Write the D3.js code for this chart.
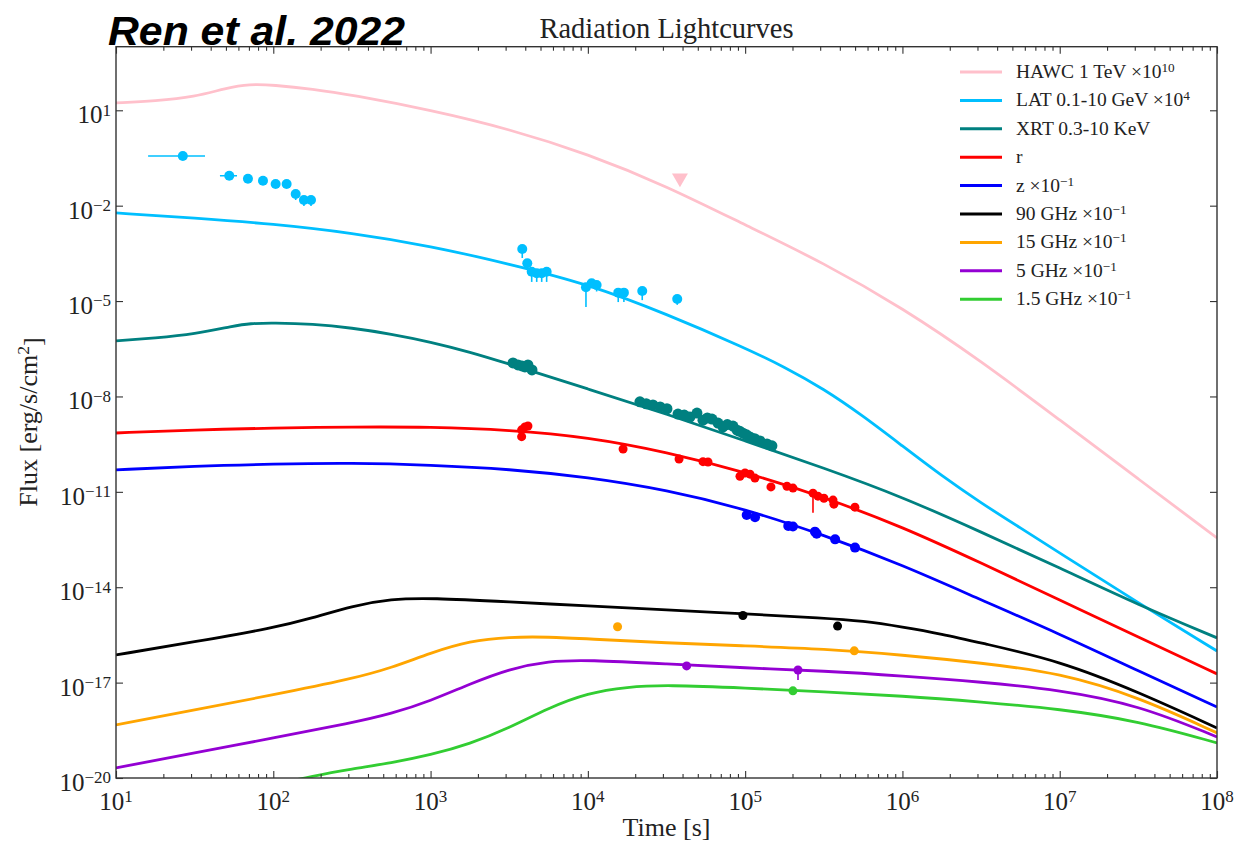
<!DOCTYPE html>
<html><head><meta charset="utf-8">
<script src="https://cdn.jsdelivr.net/npm/d3@7"></script>
<style>body{margin:0;background:#fff} svg{display:block}</style>
</head><body>
<svg id="c" width="1238" height="843"></svg>
<script>
// ---------- model curves [time s, flux] ----------
const hawcLine = [[10,17.0],[17.8,19.6],[31.6,26.2],[50.1,50.2],[70.8,67.1],[100,62.5],[178,46.8],[316,30.3],[1000,10.2],[3162,2.58],[1e4,0.423],[31623,0.0416],[1e5,2.47e-3],[316228,1.58e-4],[1e6,6.07e-6],[3.16e6,1.31e-7],[1e7,1.82e-9],[3.16e7,2.55e-11],[1e8,3.55e-13]];
const latLine = [[10,5.9e-3],[31.6,4.1e-3],[100,2.66e-3],[316,1.39e-3],[1000,5.41e-4],[3162,1.47e-4],[1e4,3.45e-5],[31623,3.93e-6],[1e5,3.35e-7],[177828,8.47e-8],[316228,1.72e-8],[562341,2.44e-9],[1e6,2.77e-10],[1.78e6,3.16e-11],[3.16e6,4.48e-12],[5.62e6,7.33e-13],[1e7,1.20e-13],[3.16e7,3.21e-15],[1e8,9.9e-17]];
const xrtLine = [[10,5.56e-7],[17.8,6.92e-7],[31.6,9.23e-7],[56.2,1.65e-6],[70.8,1.98e-6],[100,2.05e-6],[178,1.91e-6],[316,1.43e-6],[562,9.23e-7],[1000,5.18e-7],[1778,2.51e-7],[3162,1.05e-7],[1e4,1.72e-8],[31623,2.82e-9],[1e5,3.99e-10],[316228,5.65e-11],[1e6,6.92e-12],[3.16e6,5.48e-13],[1e7,4.05e-14],[3.16e7,2.77e-15],[1e8,2.55e-16]];
const rLine = [[10,7.1e-10],[31.6,8.9e-10],[100,1.02e-9],[316,1.1e-9],[1000,1.1e-9],[3162,8.9e-10],[1e4,5.3e-10],[31623,1.8e-10],[1e5,4.2e-11],[316228,6.9e-12],[1e6,7.9e-13],[3.16e6,5.8e-14],[1e7,4.0e-15],[3.16e7,2.7e-16],[1e8,1.88e-17]];
const zLine = [[10,4.9e-11],[31.6,6.5e-11],[100,7.5e-11],[316,8.1e-11],[1000,7.0e-11],[3162,5.2e-11],[1e4,2.9e-11],[31623,1.15e-11],[1e5,2.9e-12],[316228,4.4e-13],[1e6,5.0e-14],[3.16e6,4.0e-15],[1e7,3.4e-16],[3.16e7,2.33e-17],[1e8,1.72e-18]];
const g90Line = [[10,7.43e-17],[31.6,1.91e-16],[100,5.25e-16],[178,1.08e-15],[316,2.58e-15],[562,4.29e-15],[1000,4.61e-15],[3162,3.45e-15],[1e4,2.58e-15],[31623,1.93e-15],[1e5,1.45e-15],[316228,1.08e-15],[562341,8.71e-16],[1e6,5.64e-16],[1.78e6,3.40e-16],[3.16e6,1.77e-16],[1e7,4.81e-17],[3.16e7,5.10e-18],[1e8,3.76e-19]];
const g15Line = [[10,4.68e-19],[31.6,1.39e-18],[100,4.10e-18],[316,1.31e-17],[562,2.90e-17],[1000,8.59e-17],[1778,2.05e-16],[3162,2.74e-16],[5623,2.74e-16],[1e4,2.37e-16],[31623,1.77e-16],[1e5,1.43e-16],[316228,1.15e-16],[1e6,7.43e-17],[3.16e6,4.16e-17],[1e7,2.02e-17],[3.16e7,3.55e-18],[1e8,2.62e-19]];
const g5Line = [[10,2.08e-20],[31.6,6.15e-20],[100,1.82e-19],[316,5.41e-19],[562,1.04e-18],[1000,2.66e-18],[1778,9.10e-18],[3162,2.70e-17],[5623,4.81e-17],[1e4,5.18e-17],[31623,3.87e-17],[1e5,2.90e-17],[316228,2.33e-17],[1e6,1.63e-17],[3.16e6,1.05e-17],[1e7,5.89e-18],[3.16e7,1.99e-18],[1e8,1.96e-19]];
const g1p5Line = [[100,6.07e-21],[178,1.16e-20],[316,1.93e-20],[562,2.99e-20],[1000,5.32e-20],[1778,1.18e-19],[3162,3.76e-19],[5623,1.60e-18],[1e4,4.74e-18],[17783,7.33e-18],[31623,8.47e-18],[1e5,6.81e-18],[316228,5.10e-18],[1e6,3.82e-18],[3.16e6,2.47e-18],[1e7,1.49e-18],[3.16e7,6.25e-19],[1e8,1.27e-19]];

// ---------- observations ----------
const latEarlyT = [26.6,52.5,69,86,103.5,121.6,138.8,156.6,173.7];
const latEarlyF = [0.366,0.0877,0.0706,0.0611,0.0481,0.0481,0.0233,0.0151,0.0151];
const latEarlyTlo = [16,45.8,null,null,null,null,null,null,null];
const latEarlyThi = [36.8,58.8,null,null,null,null,null,null,null];
const latEarlyFlo = [null,null,null,null,null,null,0.0151,0.0098,0.0098];
const latLateT = [3828,4120,4395,4729,5087,5470,9727,10570,11370,15600,16950,22170,37000];
const latLateF = [4.35e-4,1.55e-4,8.4e-5,7.5e-5,7.5e-5,8.4e-5,2.72e-5,3.63e-5,3.2e-5,1.84e-5,1.84e-5,2.08e-5,1.16e-5];
const latLateFlo = [2.26e-4,null,4.0e-5,4.0e-5,4.0e-5,4.0e-5,6.5e-6,null,2.0e-5,9.3e-6,9.3e-6,1.07e-5,7.6e-6];
const xrtT = [3342,3597,3813,3981,4160,4413,21430,23500,25930,28800,31840,37410,41000,44570,49400,53950,57500,61540,67200,72300,77000,83700,88800,92500,96900,102000,107400,115000,124300,137700,148000];
const xrtF = [1.13e-7,9.8e-8,9.1e-8,8.5e-8,9.8e-8,6.8e-8,6.8e-9,5.9e-9,5.4e-9,4.7e-9,4.1e-9,2.8e-9,2.6e-9,2.26e-9,3.0e-9,1.8e-9,2.1e-9,1.95e-9,1.45e-9,1.1e-9,1.3e-9,1.17e-9,8.7e-10,8.0e-10,7.0e-10,6.2e-10,5.3e-10,4.7e-10,4.0e-10,3.2e-10,2.8e-10];
const rT = [3793,3793,3981,4160,16750,38000,53950,58050,92700,99800,107400,115400,145900,184500,201400,270000,290200,317000,362000,366700,498900];
const rF = [5.44e-10,8.9e-10,1.1e-9,1.18e-9,2.23e-10,1.08e-10,8.9e-11,8.7e-11,3.1e-11,3.9e-11,3.6e-11,2.7e-11,1.43e-11,1.5e-11,1.31e-11,9.1e-12,7.3e-12,6.3e-12,5.5e-12,4.1e-12,3.3e-12];
const rFlo = [null,null,null,null,null,null,null,null,null,null,null,null,null,null,null,2.2e-12,null,null,null,null,null];
const zT = [102300,115600,188000,201300,277900,285000,373200,499500];
const zF = [1.88e-12,1.59e-12,8.5e-13,8.1e-13,5.6e-13,4.8e-13,3.2e-13,1.76e-13];
const g90T = [96800,387000], g90F = [1.29e-15,6.0e-16];
const g15T = [15450,494000], g15F = [5.7e-16,1.0e-16];
const g5T = [42460,216800], g5F = [3.35e-17,2.5e-17], g5Flo = [null,1.2e-17];
const g1p5T = [201300], g1p5F = [5.5e-18];
const hawcUlT = [38500], hawcUlF = [0.074];

// ---------- ticks / labels ----------
const xMajor = [1e1,1e2,1e3,1e4,1e5,1e6,1e7,1e8];
const xMajorExp = ["1","2","3","4","5","6","7","8"];
const yMajor = [1e1,1e-2,1e-5,1e-8,1e-11,1e-14,1e-17,1e-20];
const yMajorExp = ["1","−2","−5","−8","−11","−14","−17","−20"];
const legendMain = ["HAWC 1 TeV ×10","LAT 0.1-10 GeV ×10","XRT 0.3-10 KeV","r","z ×10","90 GHz ×10","15 GHz ×10","5 GHz ×10","1.5 GHz ×10"];
const legendSup = ["10","4","","","−1","−1","−1","−1","−1"];
const colors = ["pink","#00BFFF","teal","red","blue","black","orange","darkviolet","limegreen"];

const svg = d3.select("#c");
const L=116, T=46.7, R=1217, B=778;
const x = d3.scaleLog().domain([10,1e8]).range([L,R]);
const y = d3.scaleLog().domain([1e-20,1e3]).range([B,T]);
const serif = "'Liberation Serif','Times New Roman',serif";

svg.append("rect").attr("width",1238).attr("height",843).attr("fill","#fff");
svg.append("defs").append("clipPath").attr("id","clip")
  .append("rect").attr("x",L).attr("y",T).attr("width",R-L).attr("height",B-T);

const plot = svg.append("g").attr("clip-path","url(#clip)");
const line = d3.line().x(d=>x(d[0])).y(d=>y(d[1])).curve(d3.curveBasis);
const curves = [hawcLine,latLine,xrtLine,rLine,zLine,g90Line,g15Line,g5Line,g1p5Line];
curves.forEach((c,i)=>{
  plot.append("path").datum(c).attr("d",line).attr("fill","none")
    .attr("stroke",colors[i]).attr("stroke-width",2.8).attr("stroke-linejoin","round");
});

function pts(ts,fs,col,r,flo,tlo,thi){
  const g = plot.append("g");
  ts.forEach((t,i)=>{
    if(flo && flo[i]!=null) g.append("line").attr("x1",x(t)).attr("x2",x(t)).attr("y1",y(fs[i])).attr("y2",y(flo[i])).attr("stroke",col).attr("stroke-width",1.6);
    if(tlo && tlo[i]!=null) g.append("line").attr("x1",x(tlo[i])).attr("x2",x(thi[i])).attr("y1",y(fs[i])).attr("y2",y(fs[i])).attr("stroke",col).attr("stroke-width",1.6);
  });
  g.selectAll("circle").data(ts).join("circle").attr("cx",d=>x(d)).attr("cy",(d,i)=>y(fs[i])).attr("r",r).attr("fill",col);
}
pts(latEarlyT,latEarlyF,"#00BFFF",5,latEarlyFlo,latEarlyTlo,latEarlyThi);
pts(latLateT,latLateF,"#00BFFF",5,latLateFlo);
pts(xrtT,xrtF,"teal",5.5);
pts(rT,rF,"red",4.5,rFlo);
pts(zT,zF,"blue",5);
pts(g90T,g90F,"black",4.5);
pts(g15T,g15F,"orange",4.5);
pts(g5T,g5F,"darkviolet",4.5,g5Flo);
pts(g1p5T,g1p5F,"limegreen",4.5);
// HAWC upper limit triangle
plot.selectAll("path.ul").data(hawcUlT).join("path").attr("class","ul")
  .attr("d",d3.symbol().type(d3.symbolTriangle).size(110))
  .attr("transform",(d,i)=>`translate(${x(d)},${y(hawcUlF[i])}) rotate(180)`)
  .attr("fill","pink");

// ---------- axes (inward ticks) ----------
const axCol="#333";
const xMinor = [];
for(let e=1;e<8;e++) for(let k=2;k<10;k++) xMinor.push(k*Math.pow(10,e));
function styleAx(g){ g.select(".domain").remove(); g.selectAll("line").attr("stroke",axCol).attr("stroke-width",1.1); }
svg.append("g").attr("transform",`translate(0,${B})`).call(d3.axisBottom(x).tickValues(xMajor).tickSize(-7).tickFormat("")).call(styleAx);
svg.append("g").attr("transform",`translate(0,${B})`).call(d3.axisBottom(x).tickValues(xMinor).tickSize(-4).tickFormat("")).call(styleAx);
svg.append("g").attr("transform",`translate(0,${T})`).call(d3.axisTop(x).tickValues(xMajor).tickSize(-7).tickFormat("")).call(styleAx);
svg.append("g").attr("transform",`translate(0,${T})`).call(d3.axisTop(x).tickValues(xMinor).tickSize(-4).tickFormat("")).call(styleAx);
svg.append("g").attr("transform",`translate(${L},0)`).call(d3.axisLeft(y).tickValues(yMajor).tickSize(-7).tickFormat("")).call(styleAx);
svg.append("g").attr("transform",`translate(${R},0)`).call(d3.axisRight(y).tickValues(yMajor).tickSize(-7).tickFormat("")).call(styleAx);
svg.append("rect").attr("x",L).attr("y",T).attr("width",R-L).attr("height",B-T)
  .attr("fill","none").attr("stroke",axCol).attr("stroke-width",1.4);

function pow10(sel, exp){
  sel.append("tspan").text("10");
  sel.append("tspan").attr("dy","-0.45em").attr("font-size","0.68em").text(exp);
}
xMajor.forEach((v,i)=>{
  svg.append("text").attr("x",x(v)).attr("y",810).attr("text-anchor","middle")
    .attr("font-family",serif).attr("font-size",25).attr("fill","#222").call(pow10,xMajorExp[i]);
});
yMajor.forEach((v,i)=>{
  svg.append("text").attr("x",L-5).attr("y",y(v)+13).attr("text-anchor","end")
    .attr("font-family",serif).attr("font-size",25).attr("fill","#222").call(pow10,yMajorExp[i]);
});

// axis titles
svg.append("text").attr("x",(L+R)/2).attr("y",836).attr("text-anchor","middle")
  .attr("font-family",serif).attr("font-size",26).attr("fill","#222").text("Time [s]");
const yl = svg.append("text").attr("transform","translate(37,422) rotate(-90)").attr("text-anchor","middle")
  .attr("font-family",serif).attr("font-size",26).attr("fill","#222");
yl.append("tspan").text("Flux [erg/s/cm");
yl.append("tspan").attr("dy","-0.45em").attr("font-size","0.68em").text("2");
yl.append("tspan").attr("dy","0.45em").text("]");

// titles
svg.append("text").attr("x",(L+R)/2).attr("y",38).attr("text-anchor","middle")
  .attr("font-family",serif).attr("font-size",28.5).attr("fill","#222").text("Radiation Lightcurves");
svg.append("text").attr("x",108).attr("y",45).attr("font-family","'Liberation Sans',Arial,sans-serif")
  .attr("font-weight","bold").attr("font-style","italic").attr("font-size",41)
  .attr("textLength",297).attr("lengthAdjust","spacingAndGlyphs").attr("fill","#000").text("Ren et al. 2022");

// legend
const legY0 = 72, legDy = 28.4;
legendMain.forEach((lab,i)=>{
  const yy = legY0 + i*legDy;
  svg.append("line").attr("x1",960).attr("x2",1002).attr("y1",yy).attr("y2",yy)
    .attr("stroke",colors[i]).attr("stroke-width",3);
  const t = svg.append("text").attr("x",1016).attr("y",yy+6).attr("font-family",serif)
    .attr("font-size",19.5).attr("fill","#222");
  t.append("tspan").text(lab);
  if(legendSup[i]) t.append("tspan").attr("dy","-0.45em").attr("font-size","0.68em").text(legendSup[i]);
});
</script>
</body></html>
